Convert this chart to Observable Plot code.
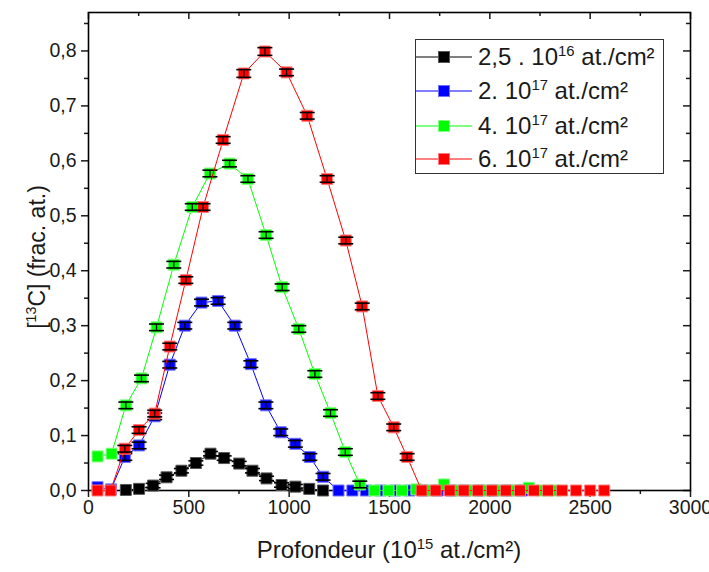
<!DOCTYPE html>
<html><head><meta charset="utf-8">
<script src="https://cdn.jsdelivr.net/npm/d3@7"></script>
<script src="https://cdn.jsdelivr.net/npm/@observablehq/plot@0.6"></script>
<style>
body{margin:0;background:#fff;}
#wrap{position:relative;width:709px;height:572px;overflow:hidden;font-family:"Liberation Sans",Arial,sans-serif;color:#1a1a1a;}
#chart{position:absolute;left:0;top:0;}
.sup{font-size:0.62em;position:relative;top:-0.62em;}
#xtitle{position:absolute;left:0;width:778px;text-align:center;top:536px;font-size:24px;white-space:nowrap;}
#ytitle{position:absolute;left:37px;top:257px;transform:translate(-50%,-50%) rotate(-90deg);font-size:23px;white-space:nowrap;}
#legend{position:absolute;left:415px;top:39px;width:249px;height:135px;border:1.5px solid #333;box-sizing:border-box;background:#fff;}
.row{position:absolute;left:0;height:30px;display:flex;align-items:center;font-size:24px;white-space:nowrap;}
.row svg{flex:none;margin-right:6px;}
</style>
</head><body>
<div id="wrap">
  <div id="chart"></div>
  <div id="xtitle">Profondeur (10<span class="sup">15</span> at./cm²)</div>
  <div id="ytitle">[<span class="sup">13</span>C] (frac. at.)</div>
  <div id="legend"></div>
</div>
<script>
// ---- data ----
const seriesNames = ["2,5 . 10|16| at./cm²", "2. 10|17| at./cm²", "4. 10|17| at./cm²", "6. 10|17| at./cm²"];
const seriesColors = ["#000000", "#0000ff", "#00ff00", "#ff0000"];
const seriesEdges = ["#555555", "#7070ff", "#80ff80", "#ff7a7a"];

const blackX = [186, 252, 322, 389, 463, 535, 608, 676, 751, 817, 887, 962, 1031, 1100, 1169];
const blackY = [0.001, 0.003, 0.009, 0.024, 0.036, 0.050, 0.067, 0.059, 0.049, 0.036, 0.022, 0.010, 0.007, 0.003, 0.000];
const blackE = [0, 0, 0.004, 0.004, 0.004, 0.004, 0.004, 0.004, 0.004, 0.004, 0.004, 0.004, 0.004, 0, 0];

const blueX = [45, 112, 181, 252, 330, 405, 480, 563, 646, 729, 809, 884, 958, 1031, 1103, 1169, 1246, 1315, 1382, 1455, 1528, 1600, 1670, 1740, 1810, 1880, 1950, 2020, 2090, 2160];
const blueY = [0.006, 0.002, 0.061, 0.082, 0.135, 0.229, 0.300, 0.342, 0.345, 0.300, 0.230, 0.155, 0.106, 0.085, 0.061, 0.025, 0, 0, 0, 0, 0, 0, 0, 0, 0, 0, 0, 0, 0, 0];
const blueE = [0, 0, 0.006, 0.006, 0.006, 0.006, 0.006, 0.006, 0.006, 0.006, 0.006, 0.006, 0.006, 0.006, 0.006, 0.006, 0, 0, 0, 0, 0, 0, 0, 0, 0, 0, 0, 0, 0, 0];

const greenX = [45, 115, 186, 264, 339, 425, 517, 605, 703, 794, 885, 965, 1048, 1128, 1206, 1280, 1352, 1425, 1495, 1563, 1634, 1705, 1771, 1837, 1908, 1978, 2050, 2119, 2194, 2260, 2327];
const greenY = [0.062, 0.067, 0.155, 0.204, 0.297, 0.411, 0.516, 0.577, 0.595, 0.567, 0.465, 0.370, 0.294, 0.212, 0.141, 0.070, 0.011, 0, 0, 0, 0.002, 0, 0.011, 0, 0, 0, 0, 0, 0.005, 0, 0];
const greenE = [0, 0, 0.006, 0.006, 0.006, 0.006, 0.006, 0.006, 0.006, 0.006, 0.006, 0.006, 0.006, 0.006, 0.006, 0.006, 0.006, 0, 0, 0, 0, 0, 0, 0, 0, 0, 0, 0, 0, 0, 0];

const redX = [45, 110, 181, 252, 330, 405, 485, 571, 671, 774, 879, 987, 1090, 1189, 1282, 1364, 1442, 1521, 1588, 1660, 1730, 1800, 1870, 1940, 2010, 2080, 2150, 2220, 2290, 2360, 2430, 2500, 2570];
const redY = [0, 0, 0.076, 0.110, 0.140, 0.262, 0.383, 0.516, 0.638, 0.759, 0.799, 0.761, 0.682, 0.567, 0.455, 0.335, 0.172, 0.115, 0.061, 0, 0, 0, 0, 0, 0, 0, 0, 0, 0, 0, 0, 0, 0];
const redE = [0, 0, 0.006, 0.006, 0.006, 0.006, 0.006, 0.006, 0.006, 0.007, 0.007, 0.006, 0.006, 0.006, 0.006, 0.006, 0.006, 0.006, 0.006, 0, 0, 0, 0, 0, 0, 0, 0, 0, 0, 0, 0, 0, 0];

const xMajor = [0, 500, 1000, 1500, 2000, 2500, 3000];
const xMinor = [250, 750, 1250, 1750, 2250, 2750];
const yMajor = [0.0, 0.1, 0.2, 0.3, 0.4, 0.5, 0.6, 0.7, 0.8];
const yMinor = [0.05, 0.15, 0.25, 0.35, 0.45, 0.55, 0.65, 0.75, 0.85];

// ---- chart ----
const W = 709, H = 572, mL = 88, mR = 19, mT = 12, mB = 82;
const fw = W - mL - mR, fh = H - mT - mB;
const series = [
  [blackX, blackY, blackE], [blueX, blueY, blueE], [greenX, greenY, greenE], [redX, redY, redE]
].map(([xs, ys, es], k) => ({
  color: seriesColors[k], edge: seriesEdges[k],
  rows: xs.map((x, i) => ({x, y: ys[i], e: es[i]}))
}));

const cap = {draw(ctx, size) { const h = Math.sqrt(size / Math.PI); ctx.moveTo(-h, 0); ctx.lineTo(h, 0); }};
const fmtY = d => d.toFixed(1).replace(".", ",");

const marks = [
  Plot.axisX(xMajor, {tickSize: 7, tickPadding: 3, tickFormat: d => String(d), fontSize: 19.5, label: null, strokeWidth: 1.5}),
  Plot.axisX(xMinor, {tickSize: 4, tickFormat: () => "", label: null, strokeWidth: 1.5}),
  Plot.axisY(yMajor, {tickSize: 7, tickPadding: 5, tickFormat: fmtY, fontSize: 19.5, label: null, strokeWidth: 1.5}),
  Plot.axisY(yMinor, {tickSize: 4, tickFormat: () => "", label: null, strokeWidth: 1.5}),
  Plot.ruleX(xMajor, {x: d => d, insetBottom: fh - 7, strokeWidth: 1.5}),
  Plot.ruleX(xMinor, {x: d => d, insetBottom: fh - 4, strokeWidth: 1.5}),
  Plot.ruleY(yMajor, {y: d => d, insetLeft: fw - 7, strokeWidth: 1.5}),
  Plot.ruleY(yMinor, {y: d => d, insetLeft: fw - 4, strokeWidth: 1.5}),
  Plot.frame({stroke: "#000", strokeWidth: 1.6})
];
for (const s of series) {
  const de = s.rows.filter(r => r.e > 0);
  marks.push(Plot.line(s.rows, {x: "x", y: "y", stroke: s.color, strokeWidth: 1}));
  marks.push(Plot.dot(s.rows, {x: "x", y: "y", symbol: "square", r: 6.2, fill: s.color, stroke: s.edge, strokeWidth: 1}));
  marks.push(Plot.ruleX(de, {x: "x", y1: r => r.y - r.e, y2: r => r.y + r.e, stroke: "#000", strokeWidth: 1.3}));
  marks.push(Plot.dot(de, {x: "x", y: r => r.y + r.e, symbol: cap, r: 7.5, fill: "none", stroke: "#000", strokeWidth: 1.6}));
  marks.push(Plot.dot(de, {x: "x", y: r => r.y - r.e, symbol: cap, r: 7.5, fill: "none", stroke: "#000", strokeWidth: 1.6}));
}

const chart = Plot.plot({
  width: W, height: H,
  marginLeft: mL, marginRight: mR, marginTop: mT, marginBottom: mB,
  x: {domain: [0, 3000], label: null},
  y: {domain: [0, 0.87], label: null},
  style: {fontFamily: "'Liberation Sans', Arial, sans-serif", color: "#1a1a1a", background: "#fff", overflow: "visible"},
  marks
});
document.getElementById("chart").appendChild(chart);

// ---- legend ----
const legend = document.getElementById("legend");
const rowCenters = [17, 51, 86, 119];
seriesNames.forEach((name, k) => {
  const [a, b, c] = name.split("|");
  const row = document.createElement("div");
  row.className = "row";
  row.style.top = (rowCenters[k] - 15) + "px";
  row.innerHTML = `<svg width="56" height="20"><line x1="0" x2="56" y1="10" y2="10" stroke="${seriesColors[k]}" stroke-width="1"/><rect x="22.5" y="4.5" width="11" height="11" fill="${seriesColors[k]}" stroke="${seriesEdges[k]}" stroke-width="1"/></svg><span>${a}<span class="sup">${b}</span>${c}</span>`;
  legend.appendChild(row);
});
</script>
</body></html>
